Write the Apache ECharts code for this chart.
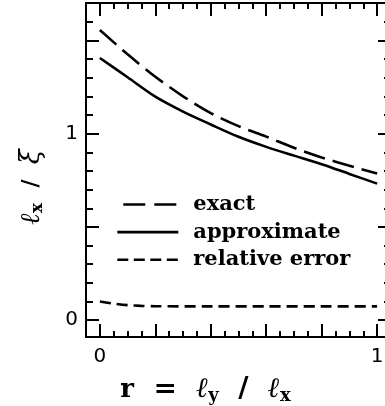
<!DOCTYPE html>
<html>
<head>
<meta charset="utf-8">
<script src="https://cdn.jsdelivr.net/npm/echarts@6/dist/echarts.min.js"></script>
<style>
  html, body { margin: 0; padding: 0; background: #fff; }
  #chart { width: 385px; height: 406px; }
</style>
</head>
<body>
<div id="chart"></div>
<script>
// Correlation length ratio as a function of the aspect ratio r = ly / lx
const rValues = [0, 0.1, 0.2, 0.3, 0.4, 0.5, 0.6, 0.7, 0.8, 0.9, 1.0];
const exactValues = [1.555, 1.425, 1.305, 1.200, 1.110, 1.040, 0.984, 0.924, 0.872, 0.828, 0.786];
const approxValues = [1.405, 1.302, 1.198, 1.118, 1.049, 0.983, 0.929, 0.882, 0.836, 0.784, 0.732];

const rErrValues = [0, 0.05, 0.1, 0.15, 0.2, 0.4, 0.6, 0.8, 1.0];
const relErrValues = [0.100, 0.089, 0.081, 0.077, 0.075, 0.074, 0.074, 0.074, 0.074];

const seriesNames = ['exact', 'approximate', 'relative error'];

// tick positions
const xMajorTicks = [0, 0.2, 0.4, 0.6, 0.8, 1.0];
const xMinorTicks = [-0.05, 0.05, 0.1, 0.15, 0.25, 0.3, 0.35, 0.45, 0.5, 0.55, 0.65, 0.7, 0.75, 0.85, 0.9, 0.95, 1.05];
const xTickLabels = [0, 1];
const yMajorTicks = [0, 0.5, 1.0, 1.5];
const yMinorTicks = [0.1, 0.2, 0.3, 0.4, 0.6, 0.7, 0.8, 0.9, 1.1, 1.2, 1.3, 1.4, 1.6];
const yTickLabels = [0, 1];

const X_MIN = -0.05, X_MAX = 1.05;
const Y_MIN = -0.09, Y_MAX = 1.7;

const zip = (xs, ys) => xs.map((x, i) => [x, ys[i]]);

const INK = '#000';
const LW = 2.6;
const serif = '"DejaVu Serif", "Liberation Serif", serif';
const sans = '"DejaVu Sans", "Liberation Sans", sans-serif';

function xAxisDef(position, ticks, len, withLabels) {
  return {
    type: 'value', position, min: X_MIN, max: X_MAX,
    axisLine: { show: true, onZero: false, lineStyle: { color: INK, width: 2 } },
    axisTick: { show: true, inside: true, length: len, customValues: ticks, lineStyle: { color: INK, width: 2 } },
    axisLabel: withLabels
      ? { show: true, customValues: xTickLabels, margin: 10, color: INK, fontFamily: sans, fontSize: 20 }
      : { show: false },
    splitLine: { show: false }
  };
}
function yAxisDef(position, ticks, len, withLabels, withLine) {
  return {
    type: 'value', position, min: Y_MIN, max: Y_MAX,
    axisLine: { show: withLine, onZero: false, lineStyle: { color: INK, width: 2 } },
    axisTick: { show: true, inside: true, length: len, customValues: ticks, lineStyle: { color: INK, width: 2 } },
    axisLabel: withLabels
      ? { show: true, customValues: yTickLabels, margin: 8, color: INK, fontFamily: sans, fontSize: 20 }
      : { show: false },
    splitLine: { show: false }
  };
}

const xAxes = [
  xAxisDef('bottom', xMajorTicks, 13, true),
  xAxisDef('bottom', xMinorTicks, 6, false),
  xAxisDef('top', xMajorTicks, 13, false),
  xAxisDef('top', xMinorTicks, 6, false)
];
Object.assign(xAxes[0], {
  name: '{r|r}{sp|  =  }{l|ℓ}{sub|y}{sp|  /  }{l|ℓ}{sub|x}',
  nameLocation: 'middle',
  nameGap: 38,
  nameTextStyle: {
    padding: [0, 66, 0, 0],
    rich: {
      r: { fontFamily: serif, fontWeight: 'bold', fontSize: 26, color: INK },
      sp: { fontFamily: serif, fontWeight: 'bold', fontSize: 28, color: INK },
      l: { fontFamily: serif, fontStyle: 'italic', fontWeight: 'bold', fontSize: 28, color: INK },
      sub: { fontFamily: serif, fontWeight: 'bold', fontSize: 18, color: INK, padding: [12, 0, 0, 0] }
    }
  }
});

const yAxes = [
  yAxisDef('left', yMajorTicks, 13, true, true),
  yAxisDef('left', yMinorTicks, 7, false, false),
  yAxisDef('right', yMajorTicks, 13, false, false),
  yAxisDef('right', yMinorTicks, 7, false, false)
];
Object.assign(yAxes[0], {
  name: '{l|ℓ}{sub|x}{sp|  /  }{xi|ξ}',
  nameLocation: 'middle',
  nameGap: 40,
  nameRotate: 90,
  nameTextStyle: {
    padding: [0, 34, 0, 0],
    rich: {
      l: { fontFamily: serif, fontStyle: 'italic', fontWeight: 'bold', fontSize: 27, color: INK },
      sub: { fontFamily: serif, fontWeight: 'bold', fontSize: 17, color: INK, padding: [12, 0, 0, 0] },
      sp: { fontFamily: serif, fontWeight: 'bold', fontSize: 22, color: INK },
      xi: { fontFamily: serif, fontStyle: 'italic', fontSize: 27, color: INK }
    }
  }
});

const lineBase = {
  type: 'line', xAxisIndex: 0, yAxisIndex: 0, symbol: 'none',
  smooth: 0.3, animation: false, itemStyle: { color: INK }
};

const option = {
  backgroundColor: '#fff',
  animation: false,
  grid: { left: 86, top: 3, width: 305, height: 334, containLabel: false, outerBoundsMode: 'none' },
  xAxis: xAxes,
  yAxis: yAxes,
  legend: {
    orient: 'vertical',
    left: 116, top: 194, padding: 0,
    itemWidth: 61, itemHeight: 20, itemGap: 6.6,
    itemStyle: { opacity: 0 },
    lineStyle: { width: LW, color: INK },
    textStyle: { fontFamily: serif, fontWeight: 'bold', fontSize: 21, color: INK, padding: [0, 0, 0, 10] },
    data: [
      { name: seriesNames[0], lineStyle: { type: [22, 9], dashOffset: 25, width: LW, color: INK, cap: 'butt' } },
      { name: seriesNames[1], lineStyle: { type: 'solid', width: LW, color: INK, cap: 'butt' } },
      { name: seriesNames[2], lineStyle: { type: [11, 5.5], dashOffset: 0, width: LW, color: INK, cap: 'butt' } }
    ]
  },
  series: [
    Object.assign({}, lineBase, {
      name: seriesNames[0],
      data: zip(rValues, exactValues),
      lineStyle: { color: INK, width: LW, type: [22, 8], cap: 'butt' }
    }),
    Object.assign({}, lineBase, {
      name: seriesNames[1],
      data: zip(rValues, approxValues),
      lineStyle: { color: INK, width: LW, type: 'solid' }
    }),
    Object.assign({}, lineBase, {
      name: seriesNames[2],
      data: zip(rErrValues, relErrValues),
      lineStyle: { color: INK, width: LW, type: [11, 6], cap: 'butt' }
    })
  ]
};

const chart = echarts.init(document.getElementById('chart'), null, { renderer: 'canvas' });
chart.setOption(option);
</script>
</body>
</html>
